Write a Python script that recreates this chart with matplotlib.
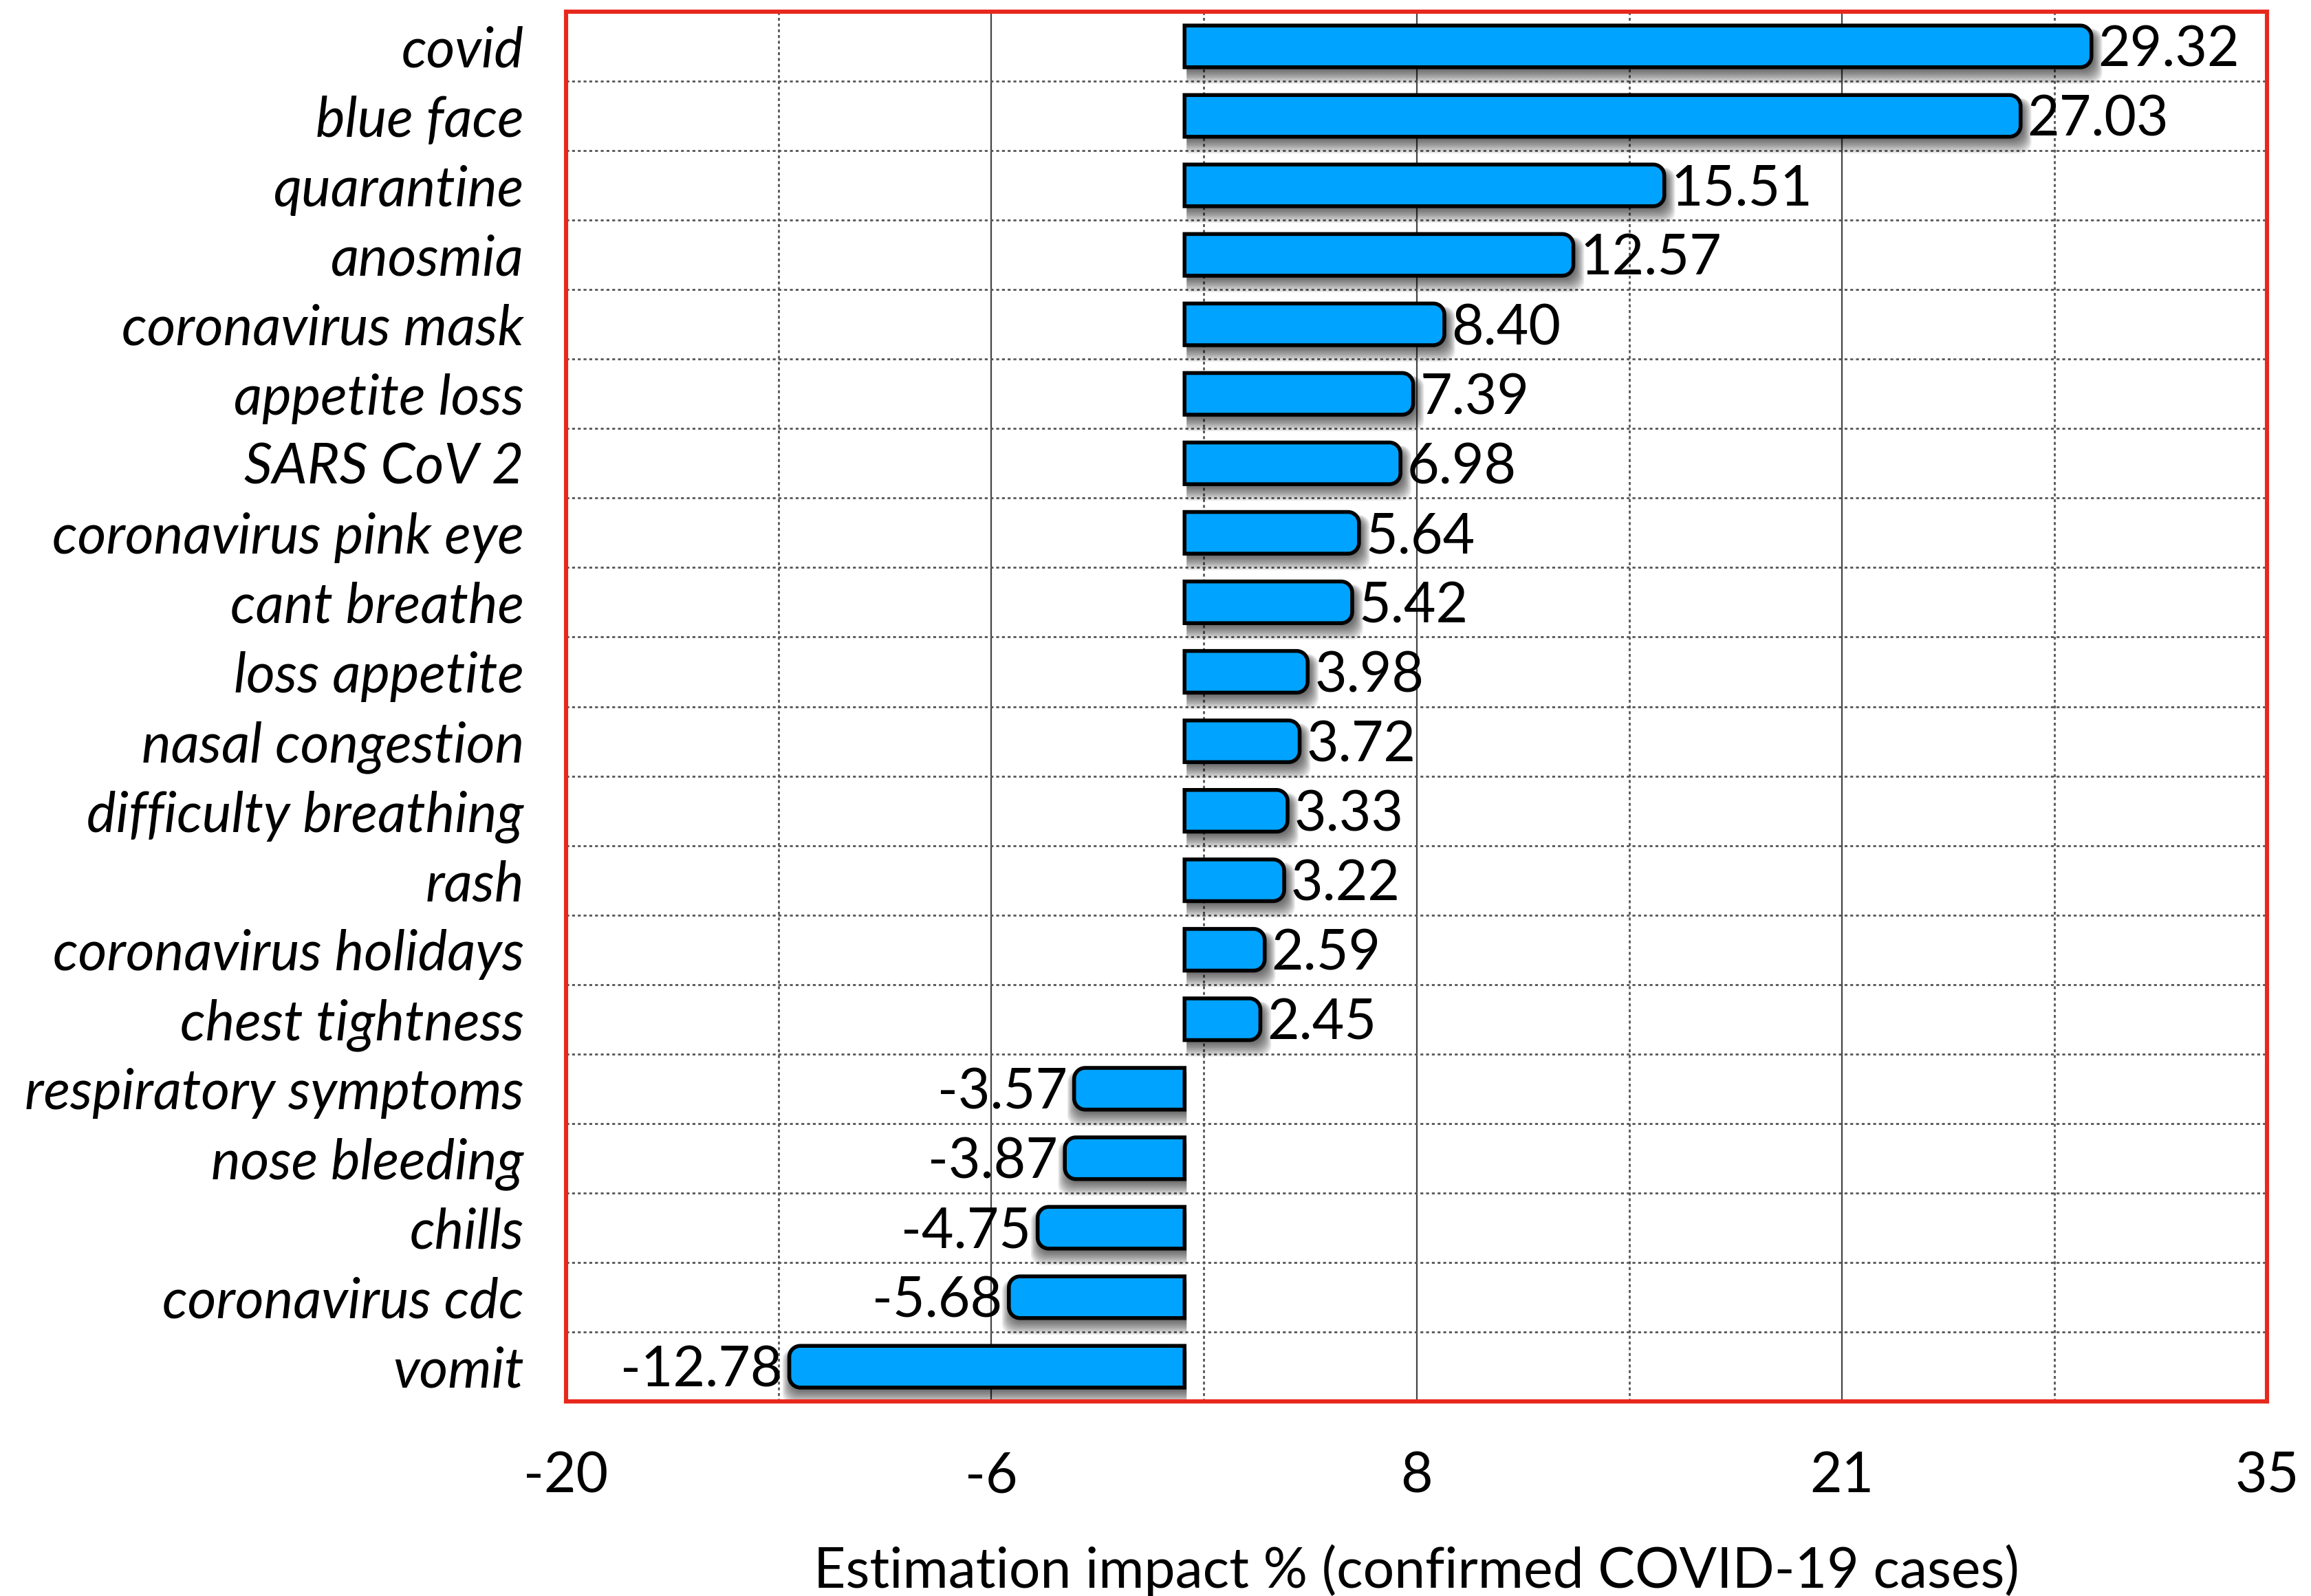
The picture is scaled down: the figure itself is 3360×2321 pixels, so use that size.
import numpy as np
import matplotlib
matplotlib.use("Agg")
import matplotlib.pyplot as plt
from matplotlib.patches import PathPatch
from matplotlib.path import Path

plt.rcParams['font.family'] = ['Lato', 'DejaVu Sans']

# Data
terms = ["covid", "blue face", "quarantine", "anosmia", "coronavirus mask",
         "appetite loss", "SARS CoV 2", "coronavirus pink eye", "cant breathe",
         "loss appetite", "nasal congestion", "difficulty breathing", "rash",
         "coronavirus holidays", "chest tightness", "respiratory symptoms",
         "nose bleeding", "chills", "coronavirus cdc", "vomit"]
impact = [29.32, 27.03, 15.51, 12.57, 8.40, 7.39, 6.98, 5.64, 5.42, 3.98,
          3.72, 3.33, 3.22, 2.59, 2.45, -3.57, -3.87, -4.75, -5.68, -12.78]
x_ticks = [-20, -6.25, 7.5, 21.25, 35]
x_tick_labels = ["-20", "-6", "8", "21", "35"]
x_label = "Estimation impact % (confirmed COVID-19 cases)"

BAR_COLOR = "#00A3FF"
BAR_H = 0.6
FS = 29

fig = plt.figure(figsize=(16.8, 11.605), dpi=200)
ax = fig.add_axes([0.2449, 0.1219, 0.7361, 0.8708])
ax.set_xlim(x_ticks[0], x_ticks[-1])
ax.set_ylim(len(terms) - 0.5, -0.5)

# pixel -> data conversions for rounded corners and shadows
fig.canvas.draw()
bbox = ax.get_window_extent()
px_x = (x_ticks[-1] - x_ticks[0]) / bbox.width
px_y = len(terms) / bbox.height


def bar_path(val, yc, h, r_px=16, x_shift=0.0):
    """Horizontal bar from 0 to val, rounded only at the outer end."""
    rx, ry = r_px * px_x, r_px * px_y
    rx = min(rx, abs(val) / 2)
    y0, y1 = yc - h / 2, yc + h / 2
    s = np.sign(val) if val != 0 else 1
    xe = val
    th = np.linspace(0, np.pi / 2, 12)
    pts = [(0, y0)]
    cx, cy = xe - s * rx, y0 + ry
    for t in th:
        pts.append((cx + s * rx * np.sin(t), cy - ry * np.cos(t)))
    cx, cy = xe - s * rx, y1 - ry
    for t in th:
        pts.append((cx + s * rx * np.cos(t), cy + ry * np.sin(t)))
    pts.append((0, y1))
    pts.append((0, y0))
    pts = np.array(pts)
    pts[:, 0] += x_shift
    codes = [Path.MOVETO] + [Path.LINETO] * (len(pts) - 2) + [Path.CLOSEPOLY]
    return Path(pts, codes)


# grid
ax.set_xticks(x_ticks)
ax.set_xticklabels(x_tick_labels)
minor = [(a + b) / 2 for a, b in zip(x_ticks[:-1], x_ticks[1:])]
ax.set_xticks(minor, minor=True)
ax.set_yticks(range(len(terms)))
ax.set_yticklabels(terms, fontstyle='italic')
for x in x_ticks[1:-1]:
    ax.axvline(x, color="#444444", lw=0.8, zorder=0)
for x in minor:
    ax.axvline(x, color="#555555", lw=1.0, ls=(0, (1.5, 1.5)), zorder=0)
for y in np.arange(0.5, len(terms) - 0.5, 1):
    ax.axhline(y, color="#555555", lw=1.0, ls=(0, (1.5, 1.5)), zorder=0)

# bars with soft drop shadows
for i, v in enumerate(impact):
    s = np.sign(v)
    for k in range(9):
        grow = k * 1.6
        dy = (7 + k * 0.9) * px_y
        p = bar_path(v + s * grow * px_x, i + dy,
                     BAR_H + 2 * grow * px_y - 6 * px_y, x_shift=3 * px_x)
        ax.add_patch(PathPatch(p, facecolor="black", edgecolor="none",
                               alpha=0.085, zorder=1))
    ax.add_patch(PathPatch(bar_path(v, i, BAR_H), facecolor=BAR_COLOR,
                           edgecolor="black", lw=2.0, zorder=2))
    off = 0.22
    yb = i + 0.29
    if v >= 0:
        ax.text(v + off, yb, f"{v:.2f}", ha="left", va="baseline", fontsize=FS, zorder=3)
    else:
        ax.text(v - off, yb, f"{v:.2f}", ha="right", va="baseline", fontsize=FS, zorder=3)

for sp in ax.spines.values():
    sp.set_color("#E8281C")
    sp.set_linewidth(2.2)
ax.tick_params(axis='both', which='both', length=0)
ax.tick_params(axis='y', labelsize=FS, pad=22)
ax.tick_params(axis='x', labelsize=FS, pad=26)
ax.set_xlabel(x_label, fontsize=FS, labelpad=22)

fig.savefig("out.png", dpi=200, facecolor="white")
